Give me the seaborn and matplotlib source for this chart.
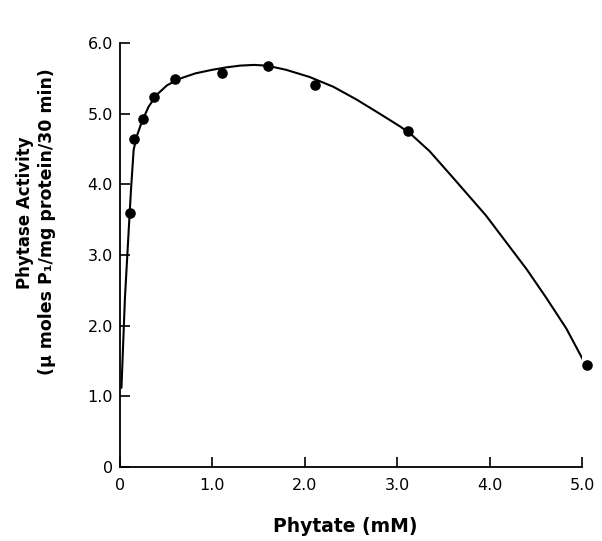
import matplotlib
matplotlib.use("Agg")
import matplotlib.pyplot as plt
import seaborn as sns
import pandas as pd

# measured points
phytate_mM = [0.11, 0.15, 0.25, 0.37, 0.60, 1.10, 1.60, 2.11, 3.12, 5.05]
activity = [3.59, 4.64, 4.92, 5.24, 5.49, 5.57, 5.67, 5.40, 4.75, 1.45]

# fitted curve
curve_x = [0.016, 0.054, 0.094, 0.119, 0.148, 0.184, 0.238, 0.31, 0.40, 0.508,
           0.635, 0.815, 0.995, 1.15, 1.30, 1.45, 1.59, 1.80, 2.05, 2.31,
           2.56, 2.81, 3.03, 3.14, 3.35, 3.60, 3.78, 3.96, 4.18, 4.40,
           4.61, 4.83, 5.03]
curve_y = [1.12, 2.40, 3.34, 3.92, 4.49, 4.69, 4.89, 5.10, 5.27, 5.40,
           5.49, 5.57, 5.62, 5.655, 5.68, 5.69, 5.68, 5.62, 5.52, 5.38,
           5.20, 5.00, 4.82, 4.72, 4.47, 4.10, 3.83, 3.56, 3.18, 2.80,
           2.40, 1.96, 1.47]

x_ticks = [0, 1, 2, 3, 4, 5]
x_ticklabels = ["0", "1.0", "2.0", "3.0", "4.0", "5.0"]
y_ticks = [0, 1, 2, 3, 4, 5, 6]
y_ticklabels = ["0", "1.0", "2.0", "3.0", "4.0", "5.0", "6.0"]

x_label = "Phytate (mM)"
y_label_1 = "Phytase Activity"
y_label_2 = "(\u03bc moles P\u2081/mg protein/30 min)"

sns.set_style("ticks")
plt.rcParams["font.family"] = ["DejaVu Sans"]
plt.rcParams["text.color"] = "black"

fig = plt.figure(figsize=(6.02, 5.41), dpi=100)
ax = fig.add_axes([0.1993, 0.1368, 0.7675, 0.7837])

df_curve = pd.DataFrame({"x": curve_x, "y": curve_y})
df_pts = pd.DataFrame({"x": phytate_mM, "y": activity})

sns.lineplot(data=df_curve, x="x", y="y", ax=ax, color="black", lw=1.5,
             sort=False, estimator=None)
sns.scatterplot(data=df_pts, x="x", y="y", ax=ax, color="black", s=58,
                edgecolor="black", linewidth=0, zorder=5, clip_on=False)

ax.set_xlim(0, 5.0)
ax.set_ylim(0, 6.0)
ax.set_xticks(x_ticks)
ax.set_xticklabels(x_ticklabels)
ax.set_yticks(y_ticks)
ax.set_yticklabels(y_ticklabels)
ax.tick_params(direction="in", length=7, width=1.2, labelsize=11.5,
               colors="black", labelcolor="black")
ax.tick_params(axis="x", pad=8)
ax.tick_params(axis="y", pad=5)
ax.set_xlabel("")
ax.set_ylabel("")
for side in ["top", "right"]:
    ax.spines[side].set_visible(False)
for side in ["left", "bottom"]:
    ax.spines[side].set_linewidth(1.3)
    ax.spines[side].set_color("black")

fig.text(345 / 602, 1 - 527 / 541, x_label, ha="center", va="center",
         fontsize=13.5, fontweight="bold", color="black")
fig.text(25 / 602, 1 - 213 / 541, y_label_1, ha="center", va="center",
         rotation=90, fontsize=12, fontweight="bold", color="black")
fig.text(47 / 602, 1 - 222 / 541, y_label_2, ha="center", va="center",
         rotation=90, fontsize=12.5, fontweight="bold", color="black")

fig.savefig("out.png", dpi=100, facecolor="white")
